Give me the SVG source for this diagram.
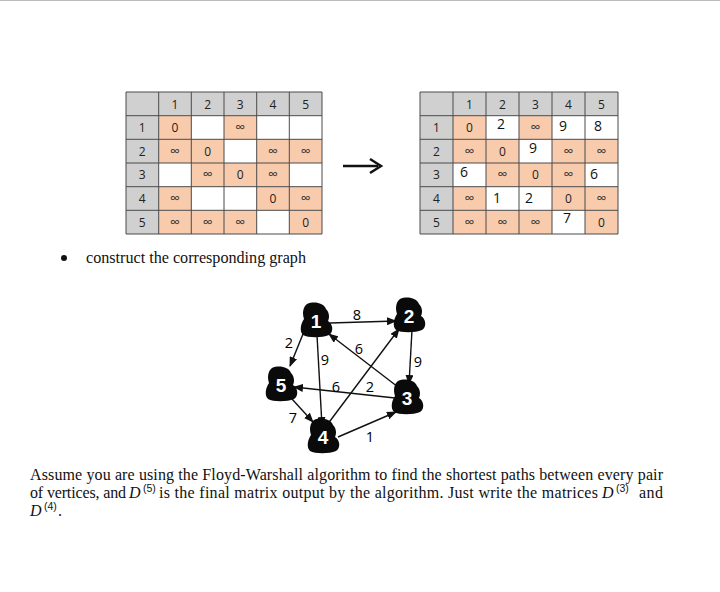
<svg xmlns="http://www.w3.org/2000/svg" width="720" height="592" viewBox="0 0 720 592">
<style>
.hd{fill:#d0d0d0}
.or{fill:#f8cbad}
.wh{fill:#ffffff}
.grid{stroke:#4a4a4a;stroke-width:1;fill:none}
.ct{font-family:"Open Sans","Liberation Sans",sans-serif;font-size:12px;fill:#222;text-anchor:middle}
.inf{font-family:"Open Sans","Liberation Sans",sans-serif;font-size:14px;fill:#333;text-anchor:middle}
.big{font-family:"Open Sans","Liberation Sans",sans-serif;font-size:14px;fill:#111;text-anchor:middle}
.tm{font-family:"Liberation Serif","Times New Roman",serif;font-size:16px;fill:#111}
.it{font-style:italic}
.sup{font-family:"Liberation Sans",sans-serif;font-size:10.5px;fill:#111}
.nl{font-family:"Liberation Sans",Arial,sans-serif;font-weight:bold;font-size:19px;fill:#fff;text-anchor:middle}
.el{font-family:"Open Sans","Liberation Sans",sans-serif;font-size:14.5px;fill:#000;text-anchor:middle}
.edge{stroke:#111;stroke-width:1.4;fill:none;marker-end:url(#ah)}
</style>
<defs>
<marker id="ah" markerWidth="10" markerHeight="8" refX="9" refY="4" orient="auto" markerUnits="userSpaceOnUse">
<path d="M0,0 L10,4 L0,8 Z" fill="#111"/>
</marker>
<path id="blob" d="M-10,-16 C-3,-19 7,-17 9,-11 C12,-8 13,-3 11,1 C16,4 17,12 12,15 C5,18 -9,18 -14,15 C-18,11 -16,3 -13,-1 C-15,-7 -14,-13 -10,-16 Z" fill="#0a0a0a"/>
</defs>
<rect width="720" height="592" fill="#fff"/>
<line x1="0" y1="0.5" x2="720" y2="0.5" stroke="#bbb" stroke-width="1"/>

<g id="table-left">
<rect class="hd" x="126" y="92" width="196" height="23.7"/>
<rect class="hd" x="126" y="92" width="32.7" height="142"/>
<rect class="or" x="158.7" y="115.7" width="32.7" height="23.6"/>
<rect class="or" x="224" y="115.7" width="32.7" height="23.6"/>
<rect class="or" x="158.7" y="139.3" width="65.3" height="23.7"/>
<rect class="or" x="256.7" y="139.3" width="65.3" height="23.7"/>
<rect class="or" x="191.3" y="163" width="98" height="23.7"/>
<rect class="or" x="158.7" y="186.7" width="32.7" height="23.6"/>
<rect class="or" x="256.7" y="186.7" width="65.3" height="23.6"/>
<rect class="or" x="158.7" y="210.3" width="98" height="23.7"/>
<rect class="or" x="289.3" y="210.3" width="32.7" height="23.7"/>
<path class="grid" d="M126,92H322V234H126Z M126,115.7H322 M126,139.3H322 M126,163H322 M126,186.7H322 M126,210.3H322 M158.7,92V234 M191.3,92V234 M224,92V234 M256.7,92V234 M289.3,92V234"/>
<g class="ct">
<text x="175" y="109">1</text><text x="207.6" y="109">2</text><text x="240.3" y="109">3</text><text x="273" y="109">4</text><text x="305.6" y="109">5</text>
<text x="142.3" y="132">1</text><text x="142.3" y="155.5">2</text><text x="142.3" y="179">3</text><text x="142.3" y="203">4</text><text x="142.3" y="226.5">5</text>
<text x="175" y="132">0</text><text x="207.6" y="155.5">0</text><text x="240.3" y="179">0</text><text x="273" y="203">0</text><text x="305.6" y="226.5">0</text>
</g>
<g class="inf">
<text x="240.3" y="132">∞</text>
<text x="175" y="155.5">∞</text><text x="273" y="155.5">∞</text><text x="305.6" y="155.5">∞</text>
<text x="207.6" y="179">∞</text><text x="273" y="179">∞</text>
<text x="175" y="203">∞</text><text x="305.6" y="203">∞</text>
<text x="175" y="226.5">∞</text><text x="207.6" y="226.5">∞</text><text x="240.3" y="226.5">∞</text>
</g>
</g>

<g id="arrow-mid">
<line x1="343" y1="166" x2="378" y2="166" stroke="#111" stroke-width="2.5"/>
<path d="M370,159 L381,166 L370,173" stroke="#111" stroke-width="2.5" fill="none"/>
</g>

<g id="table-right">
<rect class="hd" x="420" y="92" width="198" height="23.7"/>
<rect class="hd" x="420" y="92" width="33" height="142"/>
<rect class="or" x="453" y="115.7" width="33" height="23.6"/>
<rect class="or" x="519" y="115.7" width="33" height="23.6"/>
<rect class="or" x="453" y="139.3" width="66" height="23.7"/>
<rect class="or" x="552" y="139.3" width="66" height="23.7"/>
<rect class="or" x="486" y="163" width="99" height="23.7"/>
<rect class="or" x="453" y="186.7" width="33" height="23.6"/>
<rect class="or" x="552" y="186.7" width="66" height="23.6"/>
<rect class="or" x="453" y="210.3" width="99" height="23.7"/>
<rect class="or" x="585" y="210.3" width="33" height="23.7"/>
<path class="grid" d="M420,92H618V234H420Z M420,115.7H618 M420,139.3H618 M420,163H618 M420,186.7H618 M420,210.3H618 M453,92V234 M486,92V234 M519,92V234 M552,92V234 M585,92V234"/>
<g class="ct">
<text x="469.5" y="109">1</text><text x="502.5" y="109">2</text><text x="535.5" y="109">3</text><text x="568.5" y="109">4</text><text x="601.5" y="109">5</text>
<text x="436.5" y="132">1</text><text x="436.5" y="155.5">2</text><text x="436.5" y="179">3</text><text x="436.5" y="203">4</text><text x="436.5" y="226.5">5</text>
<text x="469.5" y="132">0</text><text x="502.5" y="155.5">0</text><text x="535.5" y="179">0</text><text x="568.5" y="203">0</text><text x="601.5" y="226.5">0</text>
</g>
<g class="inf">
<text x="535.5" y="132">∞</text>
<text x="469.5" y="155.5">∞</text><text x="568.5" y="155.5">∞</text><text x="601.5" y="155.5">∞</text>
<text x="502.5" y="179">∞</text><text x="568.5" y="179">∞</text>
<text x="469.5" y="203">∞</text><text x="601.5" y="203">∞</text>
<text x="469.5" y="226.5">∞</text><text x="502.5" y="226.5">∞</text><text x="535.5" y="226.5">∞</text>
</g>
<g class="big">
<text x="501" y="129">2</text><text x="563" y="131">9</text><text x="598" y="131">8</text>
<text x="533" y="153">9</text>
<text x="464" y="177">6</text><text x="594" y="179">6</text>
<text x="497" y="203">1</text><text x="529" y="203">2</text>
<text x="567" y="223">7</text>
</g>
</g>

<g id="bullet-line">
<circle cx="64" cy="258" r="3" fill="#111"/>
<text class="tm" x="86" y="263" textLength="220" lengthAdjust="spacingAndGlyphs">construct the corresponding graph</text>
</g>

<g id="connectors">
<path class="edge" d="M330,323 L396,321"/>
<path class="edge" d="M412,330 L409,384"/>
<path class="edge" d="M398,387 L329,334"/>
<path class="edge" d="M303,334 L290,366"/>
<path class="edge" d="M317,335 L322,426"/>
<path class="edge" d="M395,398 L294,387"/>
<path class="edge" d="M327,425 L399,329"/>
<path class="edge" d="M292,399 L313,422"/>
<path class="edge" d="M338,437 L396,412"/>
<g class="el">
<text x="357" y="320">8</text>
<text x="418" y="367">9</text>
<text x="359" y="354">6</text>
<text x="289" y="348">2</text>
<text x="325" y="365">9</text>
<text x="336" y="392">6</text>
<text x="370" y="392">2</text>
<text x="293" y="423">7</text>
<text x="370" y="442">1</text>
</g>
</g>

<g id="node-1"><use href="#blob" x="317" y="320"/><text class="nl" x="316" y="328">1</text></g>
<g id="node-2"><use href="#blob" x="410" y="315"/><text class="nl" x="409" y="323">2</text></g>
<g id="node-3"><use href="#blob" x="408" y="397"/><text class="nl" x="407" y="405">3</text></g>
<g id="node-4"><use href="#blob" x="324" y="436"/><text class="nl" x="323" y="444">4</text></g>
<g id="node-5"><use href="#blob" x="282" y="384"/><text class="nl" x="281" y="392">5</text></g>

<g id="paragraph">
<text class="tm" x="30" y="480" textLength="633" lengthAdjust="spacing">Assume you are using the Floyd-Warshall algorithm to find the shortest paths between every pair</text>
<text class="tm" x="30" y="498" textLength="96" lengthAdjust="spacing">of vertices, and</text>
<text class="tm it" x="129" y="498">D</text>
<text class="sup" x="143" y="492">(5)</text>
<text class="tm" x="159" y="498" textLength="439" lengthAdjust="spacing">is the final matrix output by the algorithm. Just write the matrices</text>
<text class="tm it" x="602" y="498">D</text>
<text class="sup" x="616" y="492">(3)</text>
<text class="tm" x="639" y="498" textLength="24" lengthAdjust="spacing">and</text>
<text class="tm it" x="30" y="516">D</text>
<text class="sup" x="44" y="510">(4)</text>
<text class="tm" x="58" y="516">.</text>
</g>
</svg>
